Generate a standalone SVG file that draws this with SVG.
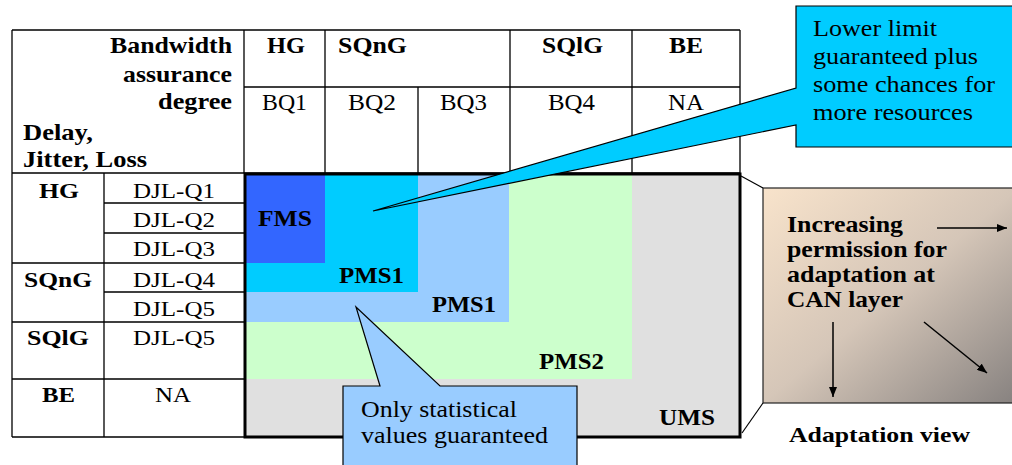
<svg xmlns="http://www.w3.org/2000/svg" width="1012" height="465" viewBox="0 0 1012 465">
<style>
.b{font-family:"Liberation Serif","Times New Roman",serif;font-weight:bold;fill:#000}
.r{font-family:"Liberation Serif","Times New Roman",serif;fill:#000}
.g{stroke:#000;stroke-width:1.3;fill:none}
.t{stroke:#000;stroke-width:3;fill:none}
.c{stroke:#000;stroke-width:1.2}
</style>
<defs>
<linearGradient id="adg" x1="0" y1="0" x2="1" y2="1">
<stop offset="0" stop-color="#f8e3cb"/>
<stop offset="0.5" stop-color="#d5c6b8"/>
<stop offset="1" stop-color="#86817f"/>
</linearGradient>
<marker id="ah" viewBox="0 0 10 8" refX="10" refY="4" markerWidth="10" markerHeight="8" markerUnits="userSpaceOnUse" orient="auto">
<path d="M0,0 L10,4 L0,8 Z" fill="#000"/>
</marker>
</defs>
<rect width="1012" height="465" fill="#fff"/>

<g id="matrix">
<rect x="245" y="174" width="495" height="263" fill="#e0e0e0"/>
<rect x="245" y="174" width="387" height="205" fill="#ccffcc"/>
<rect x="245" y="174" width="264" height="148" fill="#99ccff"/>
<rect x="245" y="174" width="173" height="118" fill="#00ccff"/>
<rect x="245" y="174" width="80" height="89" fill="#3366ff"/>
<text class="b" x="258" y="226" font-size="23" textLength="54" lengthAdjust="spacingAndGlyphs">FMS</text>
<text class="b" x="339" y="283" font-size="23" textLength="65" lengthAdjust="spacingAndGlyphs">PMS1</text>
<text class="b" x="432" y="312" font-size="23" textLength="64" lengthAdjust="spacingAndGlyphs">PMS1</text>
<text class="b" x="539" y="369" font-size="23" textLength="65" lengthAdjust="spacingAndGlyphs">PMS2</text>
<text class="b" x="659" y="425" font-size="23" textLength="56" lengthAdjust="spacingAndGlyphs">UMS</text>
<rect x="245" y="174" width="495" height="263" class="t"/>
</g>

<g id="table">
<path class="g" d="M12,30 H740 M12,30 V437 M12,173 H740 M244,87 H740 M244,30 V173 M325,30 V174 M418,87 V174 M510,30 V174 M632,30 V174 M740,30 V174 M104,173 V437 M12,263 H244 M12,322 H244 M12,379 H244 M12,437 H244 M104,203 H244 M104,233 H244 M104,292 H244"/>
<text class="b" x="110" y="53" font-size="23" textLength="122" lengthAdjust="spacingAndGlyphs">Bandwidth</text>
<text class="b" x="123" y="82" font-size="23" textLength="109" lengthAdjust="spacingAndGlyphs">assurance</text>
<text class="b" x="158" y="109" font-size="23" textLength="74" lengthAdjust="spacingAndGlyphs">degree</text>
<text class="b" x="23" y="140" font-size="23" textLength="70" lengthAdjust="spacingAndGlyphs">Delay,</text>
<text class="b" x="23" y="167" font-size="23" textLength="124" lengthAdjust="spacingAndGlyphs">Jitter, Loss</text>
<text class="b" x="267" y="53" font-size="23" textLength="38" lengthAdjust="spacingAndGlyphs">HG</text>
<text class="b" x="338" y="53" font-size="23" textLength="69" lengthAdjust="spacingAndGlyphs">SQnG</text>
<text class="b" x="542" y="53" font-size="23" textLength="61" lengthAdjust="spacingAndGlyphs">SQlG</text>
<text class="b" x="669" y="53" font-size="23" textLength="34" lengthAdjust="spacingAndGlyphs">BE</text>
<text class="r" x="262" y="110" font-size="23" textLength="45" lengthAdjust="spacingAndGlyphs">BQ1</text>
<text class="r" x="348" y="110" font-size="23" textLength="48" lengthAdjust="spacingAndGlyphs">BQ2</text>
<text class="r" x="440" y="110" font-size="23" textLength="47" lengthAdjust="spacingAndGlyphs">BQ3</text>
<text class="r" x="548" y="110" font-size="23" textLength="47" lengthAdjust="spacingAndGlyphs">BQ4</text>
<text class="r" x="668" y="110" font-size="23" textLength="36" lengthAdjust="spacingAndGlyphs">NA</text>
<text class="b" x="39" y="198" font-size="22" textLength="40" lengthAdjust="spacingAndGlyphs">HG</text>
<text class="b" x="24" y="287" font-size="22" textLength="68" lengthAdjust="spacingAndGlyphs">SQnG</text>
<text class="b" x="27" y="345" font-size="22" textLength="62" lengthAdjust="spacingAndGlyphs">SQlG</text>
<text class="b" x="42" y="402" font-size="22" textLength="33" lengthAdjust="spacingAndGlyphs">BE</text>
<text class="r" x="133" y="198" font-size="22" textLength="82" lengthAdjust="spacingAndGlyphs">DJL-Q1</text>
<text class="r" x="133" y="227" font-size="22" textLength="82" lengthAdjust="spacingAndGlyphs">DJL-Q2</text>
<text class="r" x="133" y="256" font-size="22" textLength="82" lengthAdjust="spacingAndGlyphs">DJL-Q3</text>
<text class="r" x="133" y="287" font-size="22" textLength="82" lengthAdjust="spacingAndGlyphs">DJL-Q4</text>
<text class="r" x="133" y="316" font-size="22" textLength="82" lengthAdjust="spacingAndGlyphs">DJL-Q5</text>
<text class="r" x="133" y="345" font-size="22" textLength="82" lengthAdjust="spacingAndGlyphs">DJL-Q5</text>
<text class="r" x="155" y="402" font-size="22" textLength="36" lengthAdjust="spacingAndGlyphs">NA</text>
</g>

<g id="callout-upper">
<path class="c" fill="#00ccff" d="M796,6 H1016 V147 H796 V125 L373,211 L796,88 Z"/>
<text class="r" x="813" y="36" font-size="23" textLength="124" lengthAdjust="spacingAndGlyphs">Lower limit</text>
<text class="r" x="813" y="64" font-size="23" textLength="165" lengthAdjust="spacingAndGlyphs">guaranteed plus</text>
<text class="r" x="813" y="92" font-size="23" textLength="182" lengthAdjust="spacingAndGlyphs">some chances for</text>
<text class="r" x="813" y="120" font-size="23" textLength="160" lengthAdjust="spacingAndGlyphs">more resources</text>
</g>

<g id="callout-lower">
<path class="c" fill="#99ccff" d="M343,470 V386 H380 L356,307 L440,386 H577 V470 Z"/>
<text class="r" x="361" y="417" font-size="23" textLength="156" lengthAdjust="spacingAndGlyphs">Only statistical</text>
<text class="r" x="361" y="443" font-size="23" textLength="187" lengthAdjust="spacingAndGlyphs">values guaranteed</text>
</g>

<g id="adaptation-view">
<rect x="763" y="188" width="255" height="215" fill="url(#adg)" stroke="#222" stroke-width="1.2"/>
<text class="b" x="787" y="232" font-size="23" textLength="116" lengthAdjust="spacingAndGlyphs">Increasing</text>
<text class="b" x="787" y="257" font-size="23" textLength="160" lengthAdjust="spacingAndGlyphs">permission for</text>
<text class="b" x="787" y="282" font-size="23" textLength="148" lengthAdjust="spacingAndGlyphs">adaptation at</text>
<text class="b" x="787" y="307" font-size="23" textLength="116" lengthAdjust="spacingAndGlyphs">CAN layer</text>
<text class="b" x="789" y="442" font-size="22" textLength="181" lengthAdjust="spacingAndGlyphs">Adaptation view</text>
</g>

<g id="connectors" stroke="#000" stroke-width="1.5" fill="none">
<line x1="741" y1="176" x2="763" y2="188" stroke-width="1.2"/>
<line x1="742" y1="433" x2="763" y2="403" stroke-width="1.2"/>
<line x1="937" y1="228" x2="1007" y2="228" marker-end="url(#ah)"/>
<line x1="833" y1="322" x2="833" y2="397" marker-end="url(#ah)"/>
<line x1="924" y1="322" x2="987" y2="373" marker-end="url(#ah)"/>
</g>
</svg>
